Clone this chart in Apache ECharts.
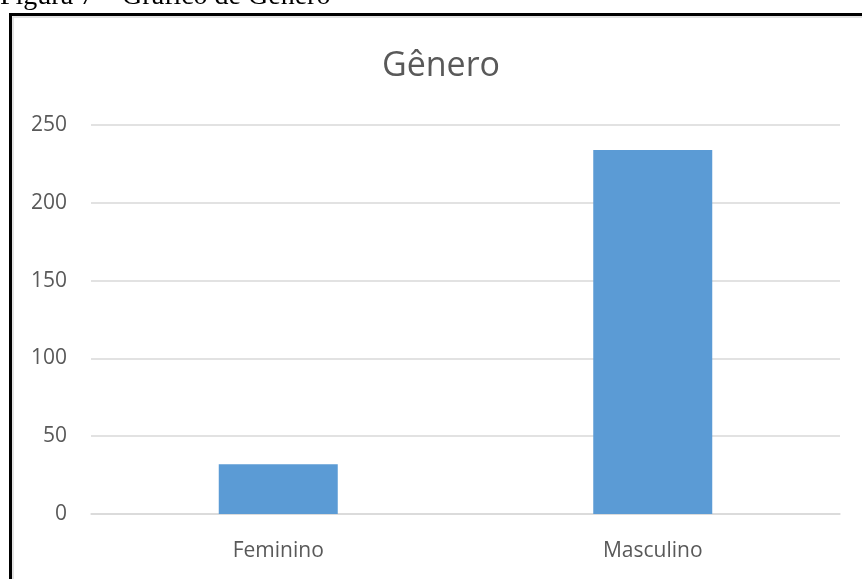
<!DOCTYPE html>
<html>
<head>
<meta charset="utf-8">
<script src="https://cdn.jsdelivr.net/npm/echarts@6/dist/echarts.min.js"></script>
<style>
  html, body { margin: 0; padding: 0; background: #fff; }
  #chart { width: 862px; height: 579px; }
</style>
</head>
<body>
<div id="chart"></div>
<script>
const categories = ['Feminino', 'Masculino']
const counts = [32, 234]
const yTicks = [0, 50, 100, 150, 200, 250]

const chart = echarts.init(document.getElementById('chart'))

chart.setOption({
  animation: false,
  title: {
    text: 'Gênero',
    left: 436,
    top: 44,
    textAlign: 'center',
    textStyle: {
      fontFamily: 'Open Sans, sans-serif',
      fontSize: 34,
      fontWeight: 'normal',
      color: '#595959',
    },
  },
  graphic: [
    {
      type: 'text',
      left: 0,
      top: -17,
      style: {
        text: 'Figura 7 – Gráfico de Gênero',
        font: '28px "Liberation Serif", serif',
        fill: '#000',
      },
    },
    {
      type: 'rect',
      shape: { x: 10.5, y: 14.5, width: 880, height: 600 },
      style: { fill: 'none', stroke: '#000', lineWidth: 3 },
    },
    {
      type: 'rect',
      shape: { x: 13, y: 17, width: 880, height: 600 },
      style: { fill: 'none', stroke: '#d9d9d9', lineWidth: 1.5 },
    },
  ],
  grid: {
    left: 91,
    right: 22,
    top: 125,
    bottom: 65,
    containLabel: false,
  },
  xAxis: {
    type: 'category',
    data: categories,
    axisLine: { lineStyle: { color: '#d9d9d9', width: 1.5 } },
    axisTick: { show: false },
    axisLabel: {
      color: '#595959',
      fontSize: 21,
      fontFamily: 'Open Sans, sans-serif',
      margin: 27,
    },
  },
  yAxis: {
    type: 'value',
    min: yTicks[0],
    max: yTicks[yTicks.length - 1],
    interval: 50,
    axisLine: { show: false },
    axisTick: { show: false },
    splitLine: { lineStyle: { color: '#d9d9d9', width: 1.5 } },
    axisLabel: {
      color: '#595959',
      fontSize: 21,
      fontFamily: 'Open Sans, sans-serif',
      margin: 24,
    },
  },
  series: [
    {
      type: 'bar',
      data: counts,
      barWidth: 119,
      itemStyle: { color: '#5b9bd5' },
    },
  ],
})
</script>
</body>
</html>
